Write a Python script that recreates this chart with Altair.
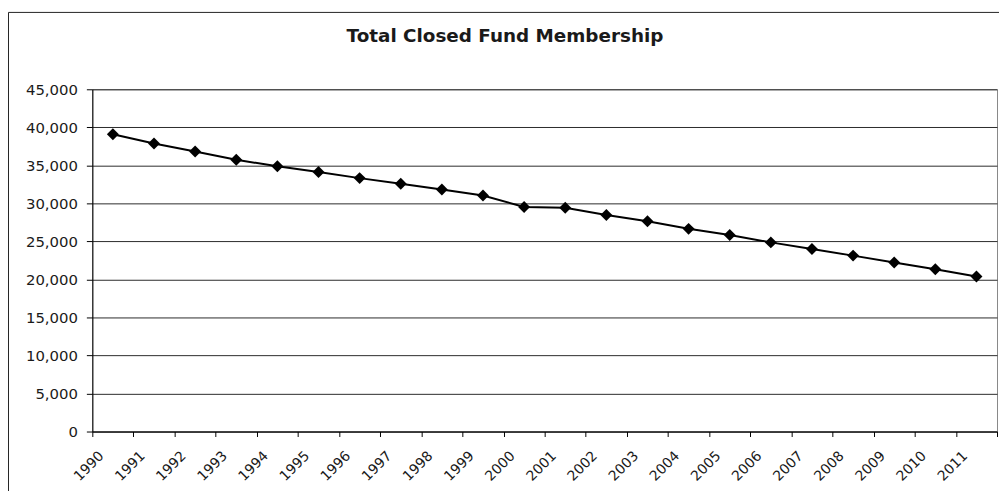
import altair as alt
import pandas as pd

years = list(range(1990, 2012))
members = [39100, 37870, 36830, 35740, 34870, 34120, 33320, 32570, 31830, 31040,
           29520, 29420, 28470, 27650, 26650, 25830, 24870, 24000, 23130, 22220,
           21350, 20390]
y_ticks = list(range(0, 45001, 5000))

W, H = 912, 345

df = pd.DataFrame({
    "year": years,
    "members": members,
    "pos": [i + 0.5 for i in range(len(years))],
})

x_enc = alt.X(
    "pos:Q",
    scale=alt.Scale(domain=[0, len(years)], nice=False, zero=False),
    axis=alt.Axis(
        values=list(range(0, len(years) + 1)),
        labelExpr="datum.value < 22 ? '' + (1990 + datum.value) : ''",
        labelAngle=-45,
        labelAlign="right",
        labelBaseline="middle",
        labelOffset=9,
        labelPadding=17,
        tickSize=5,
        tickColor="#000",
        domainColor="#000",
        grid=False,
        title=None,
        labelFont="DejaVu Sans",
        labelFontSize=14,
        labelColor="#1a1a1a",
        labelOverlap=False,
    ),
)

y_enc = alt.Y(
    "members:Q",
    scale=alt.Scale(domain=[0, 45000], nice=False),
    axis=alt.Axis(
        values=y_ticks,
        format=",.0f",
        tickSize=6,
        tickColor="#000",
        domainColor="#000",
        labelPadding=9,
        gridColor="#2a2a2a",
        gridWidth=1,
        title=None,
        labelFont="DejaVu Sans",
        labelFontSize=15,
        labelColor="#1a1a1a",
    ),
)

base = alt.Chart(df).encode(x=x_enc, y=y_enc)
line = base.mark_line(color="#000", strokeWidth=2)
pts = base.mark_point(shape="diamond", filled=True, color="#000", size=145, opacity=1)

frame = alt.Chart(pd.DataFrame({"a": [0]})).mark_rect(
    fillOpacity=0, stroke="#222", strokeWidth=1
).encode(
    x=alt.value(-84.5), x2=alt.value(W + 40),
    y=alt.value(-77.5), y2=alt.value(H + 120),
)

chart = alt.layer(frame, line, pts).properties(
    width=W,
    height=H,
    autosize=alt.AutoSizeParams(type="none"),
    padding={"left": 85, "top": 80, "right": 2, "bottom": 58},
    title=alt.TitleParams(
        "Total Closed Fund Membership",
        font="DejaVu Sans",
        fontSize=18.5,
        fontWeight="bold",
        color="#1a1a1a",
        anchor="middle",
        frame="group",
        dx=-40,
        baseline="alphabetic",
        offset=0,
        dy=49,
    ),
).configure_view(stroke="#888", strokeWidth=1)

chart.save("out.html", embed_options={"renderer": "svg", "actions": False})
